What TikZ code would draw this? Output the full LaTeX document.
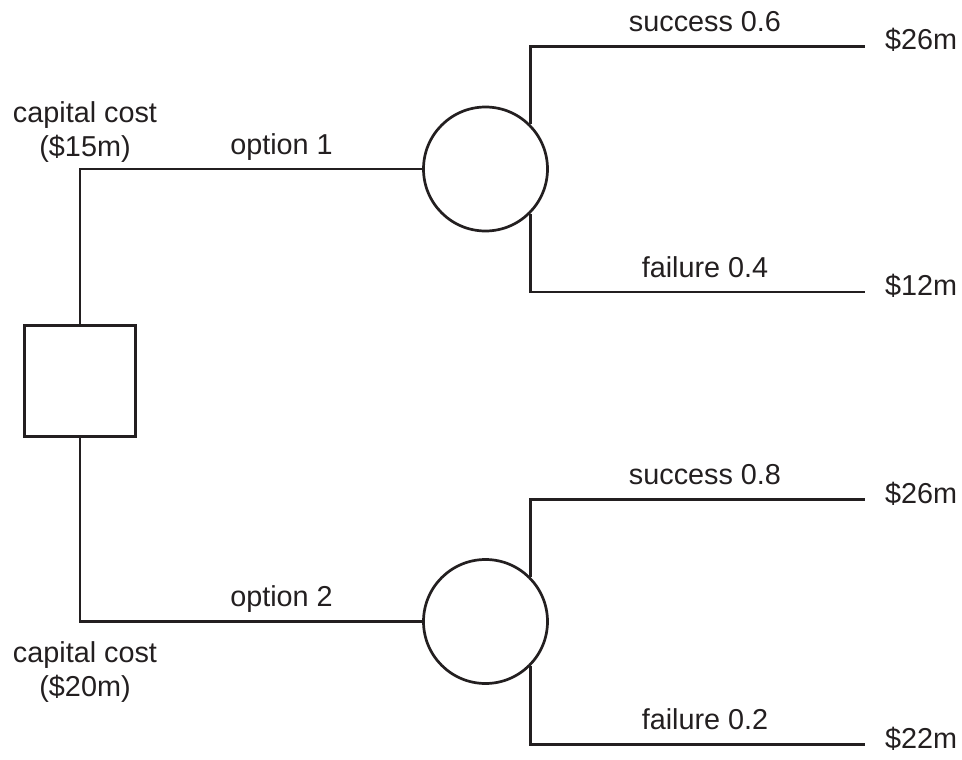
\documentclass[tikz,border=0pt]{standalone}
\usepackage{fontspec}
\setmainfont{Liberation Sans}
\definecolor{ink}{HTML}{231F20}
\tikzset{
	decision/.style={draw=ink, line width=2.7pt, fill=white, minimum size=111pt, inner sep=0pt},
	chance/.style={draw=ink, line width=2.7pt, fill=white, circle, minimum size=124pt, inner sep=0pt},
	branch/.style={draw=ink, line width=2.7pt},
	lbl/.style={text=ink, inner sep=0pt, anchor=base},
	payoff/.style={text=ink, inner sep=0pt, anchor=base west}
}
\begin{document}
\begin{tikzpicture}[x=1pt, y=-1pt, font=\fontsize{28.8}{34}\selectfont]
		\useasboundingbox (0, 0) rectangle (962, 760);

		\node[decision] (dec) at (80, 381) {};
		\node[chance] (c1) at (485.5, 169) {};
		\node[chance] (c2) at (485.5, 621.5) {};

		\coordinate (s1) at (865, 46.7);
		\coordinate (f1) at (865, 292);
		\coordinate (s2) at (865, 499.2);
		\coordinate (f2) at (865, 744.5);

		\draw[branch] (dec.north) |- (c1.west);
		\draw[branch] (dec.south) |- (c2.west);
		\draw[branch] (c1.45) |- (s1);
		\draw[branch] (c1.-45) |- (f1);
		\draw[branch] (c2.45) |- (s2);
		\draw[branch] (c2.-45) |- (f2);

		\node[lbl, align=center] (cap1) at (85, 156) {capital cost\\(\$15m)};
		\node[lbl, align=center] (cap2) at (85, 696.7) {capital cost\\(\$20m)};
		\node[lbl] (opt1) at (281.5, 154) {option 1};
		\node[lbl] (opt2) at (281.5, 606.7) {option 2};

		\node[lbl] (succ1) at (705, 32) {success 0.6};
		\node[lbl] (fail1) at (705, 277) {failure 0.4};
		\node[lbl] (succ2) at (705, 484) {success 0.8};
		\node[lbl] (fail2) at (705, 729.5) {failure 0.2};

		\node[payoff] (v1) at (885, 50) {\$26m};
		\node[payoff] (v2) at (885, 295.5) {\$12m};
		\node[payoff] (v3) at (885, 503) {\$26m};
		\node[payoff] (v4) at (885, 748) {\$22m};
	\end{tikzpicture}
\end{document}
